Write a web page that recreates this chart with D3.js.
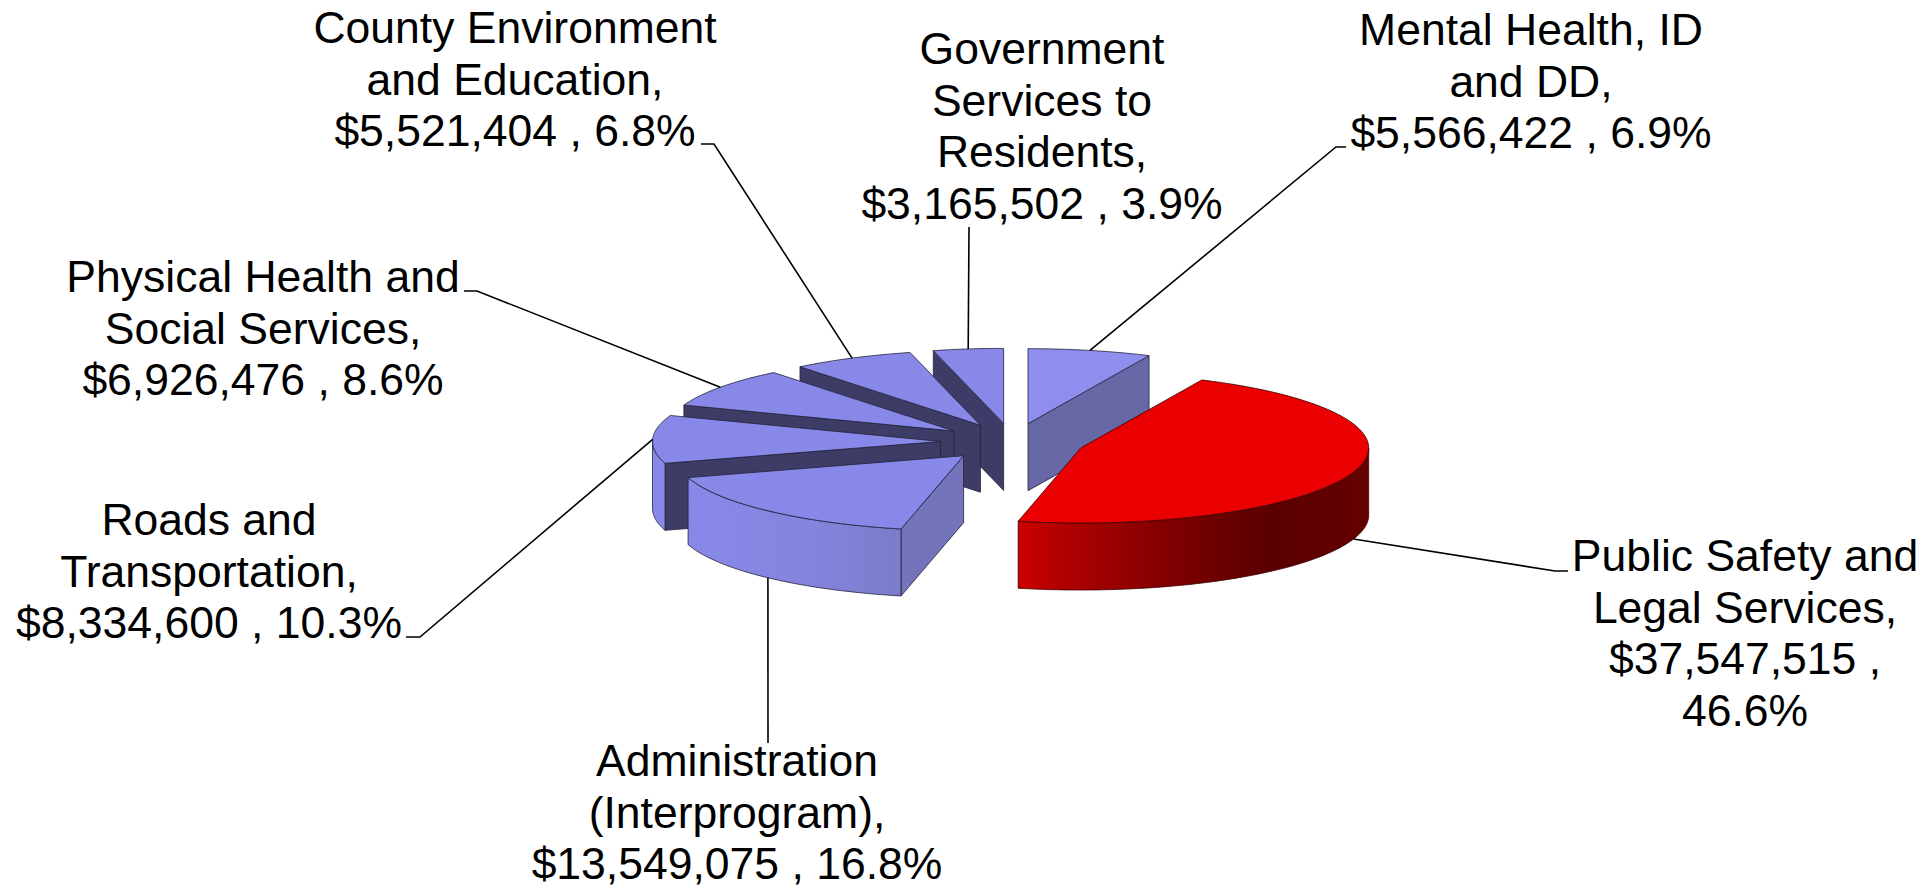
<!DOCTYPE html>
<html>
<head>
<meta charset="utf-8">
<script src="https://cdn.jsdelivr.net/npm/d3@7"></script>
<style>
    html, body { margin: 0; padding: 0; background: #fff; overflow: hidden; }
    text { font-family: "Liberation Sans", Arial, sans-serif; font-size: 44.5px; fill: #000; }
</style>
</head>
<body>
<div id="chart"></div>
<script>
const categories = [
    'Mental Health, ID and DD',
    'Public Safety and Legal Services',
    'Administration (Interprogram)',
    'Roads and Transportation',
    'Physical Health and Social Services',
    'County Environment and Education',
    'Government Services to Residents'
];
const values = [5566422, 37547515, 13549075, 8334600, 6926476, 5521404, 3165502];
const percents = ['6.9%', '46.6%', '16.8%', '10.3%', '8.6%', '6.8%', '3.9%'];

// label text broken the way the chart breaks it
const labelLines = [
    ['Mental Health, ID', 'and DD,', '$5,566,422 , 6.9%'],
    ['Public Safety and', 'Legal Services,', '$37,547,515 ,', '46.6%'],
    ['Administration', '(Interprogram),', '$13,549,075 , 16.8%'],
    ['Roads and', 'Transportation,', '$8,334,600 , 10.3%'],
    ['Physical Health and', 'Social Services,', '$6,926,476 , 8.6%'],
    ['County Environment', 'and Education,', '$5,521,404 , 6.8%'],
    ['Government', 'Services to', 'Residents,', '$3,165,502 , 3.9%']
];

const width = 1931;
const height = 885;
const lineHeight = 51.7;

// pie projection: ellipse radii, wall height, explode distance
const cx = 1012.5, cy = 442;
const rx = 288, ry = 75, depth = 67, explode = 0.25;

// label centre x / first baseline y, leader elbow points
const labelPos = [
    { x: 1531, y: 45 },
    { x: 1745, y: 571 },
    { x: 737, y: 776 },
    { x: 209, y: 535 },
    { x: 263, y: 292 },
    { x: 515, y: 43 },
    { x: 1042, y: 64 }
];
const elbows = [
    [[1336, 147], [1346, 147]],
    [[1555, 571], [1568, 571]],
    [[768, 743]],
    [[420, 637], [406, 637]],
    [[477, 291], [464, 291]],
    [[714, 144], [701, 144]],
    [[969, 227]]
];

const topColors = ['#8e8eee', '#ea0000', '#8888e8', '#8888e8', '#8888e8', '#8888e8', '#8888e8'];
const cutColors = ['#6868a6', '#600000', '#7474bc', '#3c3c66', '#3c3c66', '#3c3c66', '#3c3c66'];
const lineColors = ['#22223c', '#3c0000', '#22223c', '#22223c', '#22223c', '#22223c', '#22223c'];

const svg = d3.select('#chart').append('svg').attr('width', width).attr('height', height);
const defs = svg.append('defs');

const pie = d3.pie().sort(null).startAngle(0).endAngle(2 * Math.PI);
const arcs = pie(values).map((d, i) => {
    const mid = (d.startAngle + d.endAngle) / 2;
    return {
        i,
        start: d.startAngle,
        end: d.endAngle,
        mid,
        ax: cx + rx * explode * Math.sin(mid),
        ay: cy - ry * explode * Math.cos(mid)
    };
});

function rim(s, a, dy = 0) {
    return [s.ax + rx * Math.sin(a), s.ay - ry * Math.cos(a) + dy];
}

function arcPoints(s, a0, a1, dy = 0) {
    const n = Math.max(2, Math.ceil((a1 - a0) / 0.02));
    return d3.range(n + 1).map(k => rim(s, a0 + (a1 - a0) * k / n, dy));
}

const path = d3.line();

// cut face hangs below the edge; only seen when the wedge lies above that edge
function cutVisible(s, a) {
    const p = rim(s, a);
    const m = rim(s, s.mid);
    if (Math.abs(p[0] - s.ax) < 0.5) return false;
    const lineY = s.ay + (p[1] - s.ay) * (m[0] - s.ax) / (p[0] - s.ax);
    return m[1] < lineY;
}

// front part of the rim, where the outer wall faces the viewer
function wallRange(s) {
    const a0 = Math.max(s.start, Math.PI / 2);
    const a1 = Math.min(s.end, 3 * Math.PI / 2);
    return a0 < a1 ? [a0, a1] : null;
}

// back slices first
const order = arcs.slice().sort((a, b) => a.ay - b.ay);

const wallStops = {
    1: [[0, '#cc0000'], [0.18, '#a80000'], [0.55, '#6e0000'], [0.72, '#5a0000'], [1, '#640000']],
    2: [[0, '#8888e8'], [0.5, '#8585e0'], [1, '#7c7ccc']]
};

order.forEach(s => {
    const g = svg.append('g');
    const stroke = lineColors[s.i];

    [s.start, s.end].forEach(a => {
        if (!cutVisible(s, a)) return;
        const p = rim(s, a);
        g.append('path')
            .attr('d', path([[s.ax, s.ay], p, [p[0], p[1] + depth], [s.ax, s.ay + depth]]) + 'Z')
            .attr('fill', cutColors[s.i])
            .attr('stroke', stroke)
            .attr('stroke-width', 0.8)
            .attr('stroke-linejoin', 'round');
    });

    const range = wallRange(s);
    if (range) {
        const topEdge = arcPoints(s, range[0], range[1]);
        const bottomEdge = arcPoints(s, range[0], range[1], depth).reverse();
        let fill = topColors[s.i];
        if (wallStops[s.i]) {
            const xs = topEdge.map(p => p[0]);
            const gradient = defs.append('linearGradient')
                .attr('id', 'wall' + s.i)
                .attr('gradientUnits', 'userSpaceOnUse')
                .attr('x1', d3.min(xs)).attr('x2', d3.max(xs))
                .attr('y1', 0).attr('y2', 0);
            wallStops[s.i].forEach(st => {
                gradient.append('stop').attr('offset', st[0]).attr('stop-color', st[1]);
            });
            fill = `url(#wall${s.i})`;
        }
        g.append('path')
            .attr('d', path(topEdge.concat(bottomEdge)) + 'Z')
            .attr('fill', fill)
            .attr('stroke', stroke)
            .attr('stroke-width', 0.8)
            .attr('stroke-linejoin', 'round');
    }

    g.append('path')
        .attr('d', path([[s.ax, s.ay]].concat(arcPoints(s, s.start, s.end))) + 'Z')
        .attr('fill', topColors[s.i])
        .attr('stroke', stroke)
        .attr('stroke-width', 0.8)
        .attr('stroke-linejoin', 'round');
});

// leader lines start on the rim at each slice's middle angle
arcs.forEach(s => {
    const inFront = Math.cos(s.mid) < 0;
    const from = rim(s, s.mid, inFront ? depth : 0);
    svg.append('path')
        .attr('d', path([from].concat(elbows[s.i])))
        .attr('fill', 'none')
        .attr('stroke', '#000')
        .attr('stroke-width', 1.6);
});

categories.forEach((name, i) => {
    const t = svg.append('text')
        .attr('class', 'label')
        .attr('data-name', name)
        .attr('data-percent', percents[i])
        .attr('text-anchor', 'middle')
        .attr('x', labelPos[i].x)
        .attr('y', labelPos[i].y);
    labelLines[i].forEach((line, k) => {
        t.append('tspan')
            .attr('x', labelPos[i].x)
            .attr('y', labelPos[i].y + k * lineHeight)
            .text(line);
    });
});
</script>
</body>
</html>
